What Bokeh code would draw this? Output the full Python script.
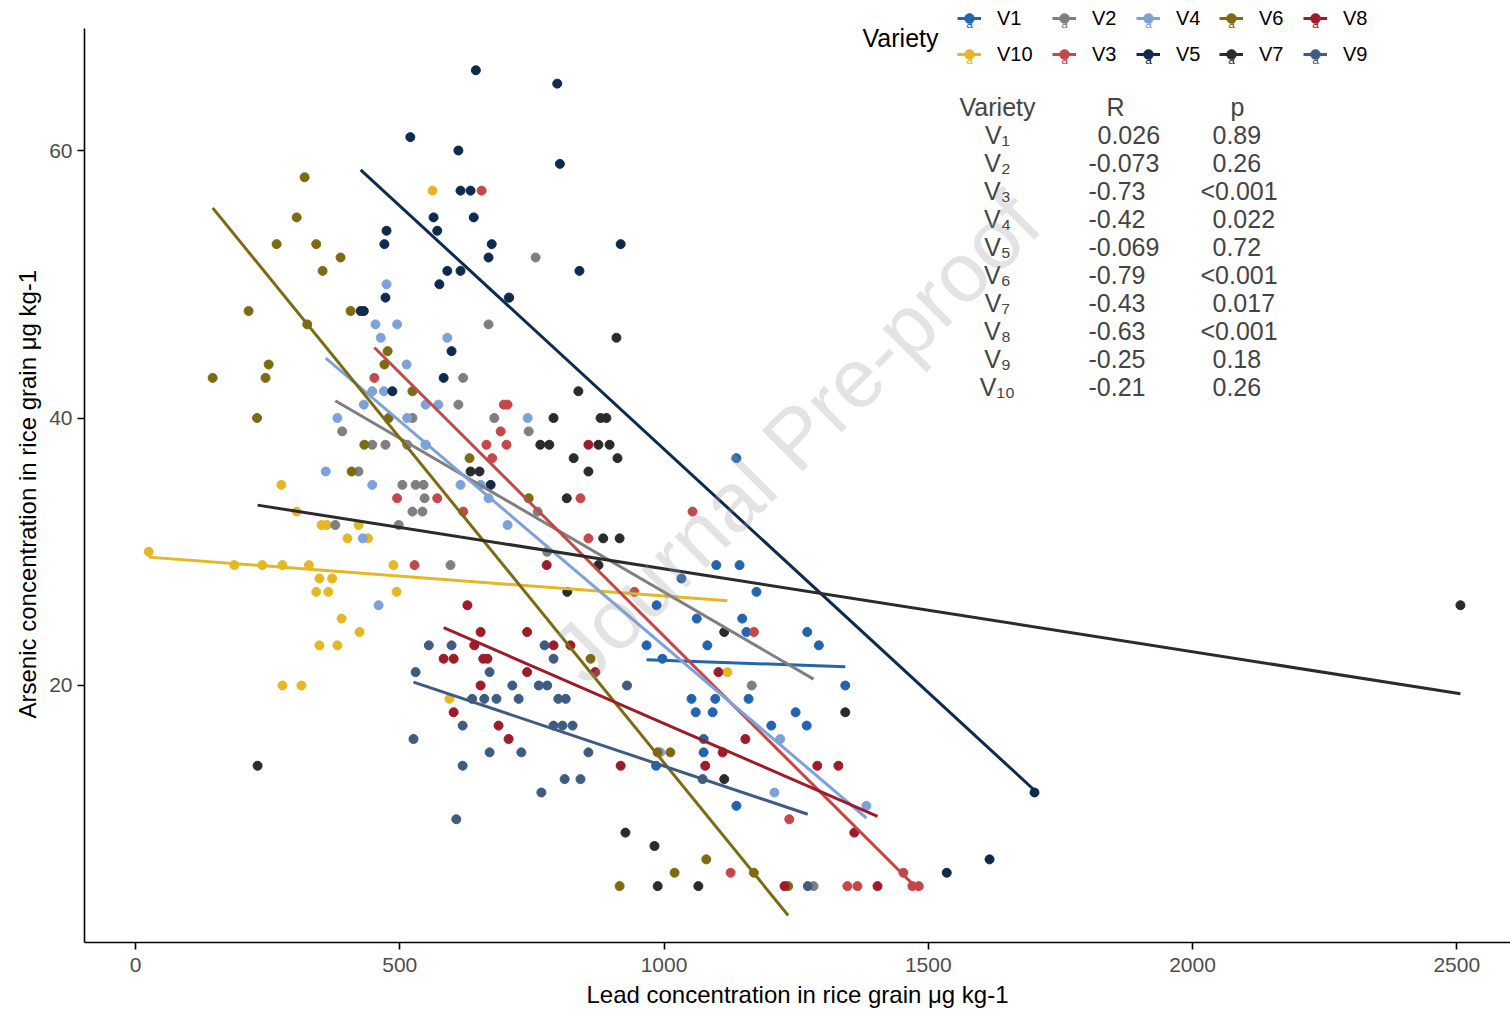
import numpy as np
from bokeh.plotting import figure
from bokeh.models import Legend, LegendItem, Label, Range1d, FixedTicker, Title
from bokeh.embed import file_html
from bokeh.resources import INLINE

# ---------------- data ----------------
varieties = ["V1", "V10", "V2", "V3", "V4", "V5", "V6", "V7", "V8", "V9"]
legend_rows = [["V1", "V2", "V4", "V6", "V8"], ["V10", "V3", "V5", "V7", "V9"]]

v1_x = [1137, 1099, 1143, 1033, 1175, 986, 1062, 1148, 1156, 1271, 1293, 1082, 967, 997, 1343,
        1052, 1097, 1160, 1060, 1092, 1249, 1203, 1270, 1075, 1075, 985, 1137]
v1_y = [37, 29, 29, 28, 27, 26, 25, 25, 24, 24, 23, 23, 23, 22, 20,
        19, 19, 19, 18, 18, 18, 17, 17, 16, 15, 14, 11]

v10_x = [25, 276, 305, 352, 362, 422, 401, 440, 187, 240, 278, 328, 488, 348, 372, 342, 365, 494,
         390, 424, 348, 382, 278, 314, 562, 594, 1120]
v10_y = [30, 35, 33, 32, 32, 32, 31, 31, 29, 29, 29, 29, 29, 28, 28, 27, 27, 27,
         25, 24, 23, 23, 20, 20, 57, 19, 21]

v2_x = [757, 706, 668, 620, 611, 524, 679, 391, 744, 448, 473, 514, 549, 422, 505, 530, 545, 547,
        524, 543, 761, 378, 498, 779, 596, 1166, 1283]
v2_y = [52, 49, 47, 43, 41, 40, 40, 39, 39, 38, 38, 38, 38, 36, 35, 35, 35, 34,
        33, 33, 33, 32, 32, 30, 29, 20, 5]

v3_x = [655, 697, 704, 691, 664, 702, 675, 495, 571, 842, 620, 1054, 857, 528, 944, 1170, 1126,
        1237, 1347, 1366, 1453, 1470, 1482, 452]
v3_y = [57, 41, 41, 39, 38, 38, 37, 34, 34, 34, 33, 33, 31, 29, 27, 24, 6,
        10, 5, 5, 6, 5, 5, 43]

v4_x = [475, 454, 495, 464, 590, 513, 448, 470, 432, 549, 573, 382, 514, 742, 549, 360, 448, 615,
        653, 668, 704, 430, 460, 993, 1220, 1209, 1383]
v4_y = [50, 47, 47, 46, 46, 44, 42, 42, 41, 41, 41, 40, 40, 40, 38, 36, 35, 35,
        35, 34, 32, 31, 26, 15, 16, 12, 11]

v5_x = [644, 798, 520, 611, 803, 615, 634, 564, 640, 571, 475, 471, 674, 918, 668, 590, 615, 840,
        575, 473, 707, 426, 432, 598, 583, 486, 672, 1701, 1535, 1616]
v5_y = [66, 65, 61, 60, 59, 57, 57, 55, 55, 54, 54, 53, 53, 53, 52, 51, 51, 51,
        50, 49, 49, 48, 48, 45, 43, 42, 35, 12, 6, 7]

v6_x = [320, 305, 267, 342, 388, 354, 214, 407, 325, 477, 252, 471, 146, 246, 524, 230, 479, 433,
        409, 632, 744, 861, 988, 1012, 1080, 1020, 1170, 916, 1235]
v6_y = [58, 55, 53, 53, 52, 51, 48, 48, 47, 45, 44, 44, 43, 43, 42, 40, 40, 38,
        36, 37, 34, 22, 15, 15, 7, 6, 6, 5, 5]

v7_x = [231, 634, 651, 766, 783, 791, 816, 817, 829, 838, 857, 876, 876, 880, 885, 891, 897, 910,
        912, 916, 927, 982, 988, 1065, 1114, 1114, 1343, 2507]
v7_y = [14, 36, 36, 38, 38, 40, 34, 27, 37, 42, 36, 38, 29, 40, 31, 40, 38, 46,
        37, 31, 9, 8, 5, 5, 13, 24, 18, 26]

v8_x = [628, 653, 741, 641, 791, 823, 583, 602, 658, 666, 741, 870, 653, 602, 687, 706, 778, 857,
        918, 1078, 1111, 1154, 1290, 1330, 1360, 1228, 1404, 1103]
v8_y = [26, 24, 24, 23, 23, 23, 22, 22, 22, 22, 21, 21, 20, 18, 17, 16, 29, 38,
        14, 14, 15, 16, 14, 14, 9, 5, 5, 21]

v9_x = [555, 598, 774, 791, 530, 670, 713, 763, 779, 930, 637, 660, 683, 725, 800, 814, 619, 526,
        791, 808, 827, 670, 730, 857, 619, 812, 842, 768, 607, 1073, 1272]
v9_y = [23, 23, 23, 22, 21, 21, 20, 20, 20, 20, 19, 19, 19, 19, 19, 19, 17, 16,
        17, 17, 17, 15, 15, 15, 14, 13, 13, 12, 10, 13, 5]

series = {
    "V1": (v1_x, v1_y), "V10": (v10_x, v10_y), "V2": (v2_x, v2_y), "V3": (v3_x, v3_y),
    "V4": (v4_x, v4_y), "V5": (v5_x, v5_y), "V6": (v6_x, v6_y), "V7": (v7_x, v7_y),
    "V8": (v8_x, v8_y), "V9": (v9_x, v9_y),
}

colors = {
    "V1": "#2265AE", "V10": "#E4B824", "V2": "#7F7F7F", "V3": "#C4474A", "V4": "#7DA2D9",
    "V5": "#0E2A4E", "V6": "#7D6B14", "V7": "#2B2B2B", "V8": "#9E1B2A", "V9": "#3F5B82",
}

table_variety = ["V\u2081", "V\u2082", "V\u2083", "V\u2084", "V\u2085", "V\u2086", "V\u2087",
                 "V\u2088", "V\u2089", "V\u2081\u2080"]
table_R = ["0.026", "-0.073", "-0.73", "-0.42", "-0.069", "-0.79", "-0.43", "-0.63", "-0.25", "-0.21"]
table_p = ["0.89", "0.26", "<0.001", "0.022", "0.72", "<0.001", "0.017", "<0.001", "0.18", "0.26"]

x_ticks = [0, 500, 1000, 1500, 2000, 2500]
y_ticks = [20, 40, 60]

x_title = "Lead concentration in rice grain \u03bcg kg-1"
y_title = "Arsenic concentration in rice grain \u03bcg kg-1"

FONT = "Liberation Sans"

# ---------------- figure ----------------
W, H = 1510, 1013
FL, FB = 84, 942          # frame left / bottom in page px (frame top at page top)
Y_LO, Y_AX_HI, Y_TOP = 0.785, 69.12, 71.215   # y axis line stops below the legend strip

p = figure(width=W, height=H, output_backend="svg", toolbar_location=None,
           x_range=Range1d(-96.5, 2601.7), y_range=Range1d(Y_LO, Y_TOP),
           min_border_left=FL, min_border_right=0, min_border_top=0, min_border_bottom=H - FB)
p.outline_line_color = None
p.xgrid.visible = False
p.ygrid.visible = False
p.background_fill_color = "white"

for ax in (p.xaxis[0], p.yaxis[0]):
    ax.axis_line_width = 1.6
    ax.axis_line_color = "black"
    ax.major_tick_out = 7
    ax.major_tick_in = 0
    ax.major_tick_line_width = 1.6
    ax.minor_tick_line_color = None
    ax.major_label_text_font = FONT
    ax.major_label_text_font_size = "21px"
    ax.major_label_text_color = "#4D4D4D"
    ax.axis_label_text_font = FONT
    ax.axis_label_text_font_size = "24px"
    ax.axis_label_text_font_style = "normal"
    ax.axis_label_text_color = "black"

p.yaxis.bounds = (Y_LO, Y_AX_HI)
p.xaxis.ticker = FixedTicker(ticks=x_ticks)
p.yaxis.ticker = FixedTicker(ticks=y_ticks)
p.xaxis.axis_label = x_title
p.xaxis.major_label_standoff = 8
p.yaxis.major_label_standoff = 5
p.xaxis.axis_label_standoff = 6

# y title centred on the axis line (not on the taller frame)
p.add_layout(Title(text=y_title, align="left", offset=224, standoff=12,
                   text_font=FONT, text_font_size="24px", text_font_style="normal",
                   text_color="black"), "left")

# points
scat = {}
for v in varieties:
    xs, ys = series[v]
    scat[v] = p.scatter(xs, ys, size=9, fill_color=colors[v], line_color=colors[v], marker="circle")

# linear fits per variety
lines = {}
for v in varieties:
    xs, ys = np.array(series[v], dtype=float)
    k, b = np.polyfit(xs, ys, 1)
    xl = np.array([xs.min(), xs.max()])
    lines[v] = p.line(xl, k * xl + b, line_width=3, line_color=colors[v])

# legend: two rows x five columns (ggplot column positions)
GW, STAND = 24, 16
label_left = [997, 1092, 1176, 1259, 1343]
row_center = [18, 54]
for r, row in enumerate(legend_rows):
    for col, v in enumerate(row):
        gx = label_left[col] - STAND - GW
        cy = row_center[r]
        leg = Legend(items=[LegendItem(label=v, renderers=[scat[v], lines[v]])],
                     location=(gx - FL, (FB - cy) - 12), orientation="horizontal",
                     padding=0, margin=0, spacing=0, glyph_width=GW, glyph_height=24,
                     label_height=24, label_standoff=STAND,
                     label_text_font=FONT, label_text_font_size="20px", label_text_color="black",
                     background_fill_alpha=0, border_line_alpha=0)
        p.add_layout(leg)
        p.add_layout(Label(x=gx + GW / 2 - FL, y=FB - cy - 5, x_units="screen", y_units="screen",
                           text="a", text_color=colors[v], text_font=FONT, text_font_size="12px",
                           text_align="center", text_baseline="middle"))

p.add_layout(Label(x=900 - FL, y=FB - 37, x_units="screen", y_units="screen", text="Variety",
                   text_font=FONT, text_font_size="25px", text_align="center",
                   text_baseline="middle", text_color="black"))

# statistics table
TFS = "25px"
p.add_layout(Label(x=997 - FL, y=FB - 106, x_units="screen", y_units="screen", text="Variety",
                   text_font=FONT, text_font_size=TFS, text_align="center", text_baseline="middle"))
p.add_layout(Label(x=1115 - FL, y=FB - 106, x_units="screen", y_units="screen", text="R",
                   text_font=FONT, text_font_size=TFS, text_align="center", text_baseline="middle"))
p.add_layout(Label(x=1237 - FL, y=FB - 106, x_units="screen", y_units="screen", text="p",
                   text_font=FONT, text_font_size=TFS, text_align="center", text_baseline="middle"))
for i in range(len(table_variety)):
    yy = FB - (134 + 28 * i)
    p.add_layout(Label(x=997 - FL, y=yy, x_units="screen", y_units="screen", text=table_variety[i],
                       text_font=FONT, text_font_size=TFS, text_align="center", text_baseline="middle"))
    rx = 1088 + (0 if table_R[i].startswith("-") else 9)
    p.add_layout(Label(x=rx - FL, y=yy, x_units="screen", y_units="screen", text=table_R[i],
                       text_font=FONT, text_font_size=TFS, text_align="left", text_baseline="middle"))
    px_ = 1212 - (12 if table_p[i].startswith("<") else 0)
    p.add_layout(Label(x=px_ - FL, y=yy, x_units="screen", y_units="screen", text=table_p[i],
                       text_font=FONT, text_font_size=TFS, text_align="left", text_baseline="middle"))

# watermark
p.add_layout(Label(x=795 - FL, y=FB - 437, x_units="screen", y_units="screen",
                   text="Journal Pre-proof", angle=45, angle_units="deg",
                   text_font=FONT, text_font_size="84px", text_color="#9A9A9A", text_alpha=0.28,
                   text_align="center", text_baseline="middle"))

open("out.html", "w").write(file_html(p, INLINE))
